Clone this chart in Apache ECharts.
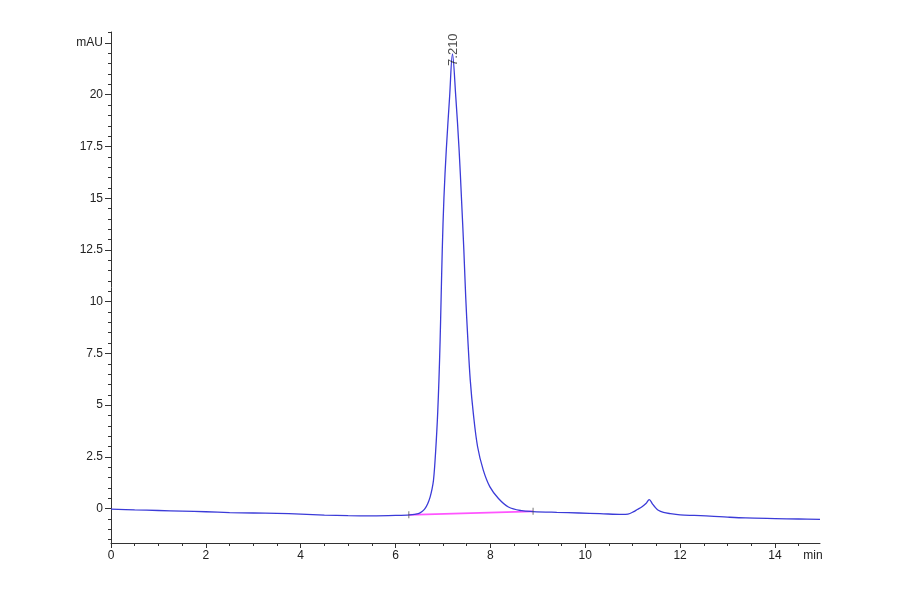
<!DOCTYPE html>
<html>
<head>
<meta charset="utf-8">
<script src="https://cdn.jsdelivr.net/npm/echarts@6/dist/echarts.min.js"></script>
<style>
html, body { margin: 0; padding: 0; background: #fff; }
#chart { width: 900px; height: 594px; }
</style>
</head>
<body>
<div id="chart"></div>
<script>
// chromatogram trace, [min, mAU]
var trace = [
    [0.0, -0.02], [0.5, -0.06], [1.0, -0.09], [1.5, -0.12], [2.0, -0.15],
    [2.5, -0.19], [3.0, -0.21], [3.5, -0.23], [4.0, -0.26], [4.5, -0.31],
    [5.0, -0.34], [5.5, -0.35], [6.0, -0.33], [6.3, -0.3], [6.48, -0.24],
    [6.56, -0.14], [6.62, 0.0], [6.68, 0.25], [6.73, 0.57], [6.77, 0.95],
    [6.8, 1.37], [6.825, 2.05], [6.845, 2.75], [6.87, 3.75], [6.89, 4.7],
    [6.915, 6.22], [6.94, 8.15], [6.96, 10.08], [6.985, 12.5], [7.02, 15.0],
    [7.07, 17.34], [7.14, 19.9], [7.2, 21.97], [7.27, 19.9], [7.34, 17.34],
    [7.39, 15.0], [7.44, 12.5], [7.48, 10.2], [7.525, 8.15], [7.575, 6.22],
    [7.64, 4.6], [7.73, 2.99], [7.85, 1.86], [7.99, 1.05], [8.17, 0.49],
    [8.38, 0.08], [8.66, -0.1], [8.9, -0.14], [9.4, -0.18], [9.87, -0.21],
    [10.31, -0.24], [10.78, -0.28], [10.9, -0.26], [11.01, -0.16], [11.1, -0.04],
    [11.19, 0.08], [11.28, 0.25], [11.35, 0.44], [11.42, 0.22], [11.48, 0.05],
    [11.54, -0.08], [11.65, -0.18], [11.79, -0.24], [12.0, -0.3], [12.3, -0.33],
    [12.63, -0.36], [13.0, -0.41], [13.38, -0.45], [14.0, -0.48], [14.5, -0.5],
    [14.95, -0.52]
];
// integration baseline of the main peak
var baseline = [[6.28, -0.3], [8.9, -0.13]];
var peakLabel = [[7.21, 21.97, "7.210"]];

var yMajor = [0, 2.5, 5, 7.5, 10, 12.5, 15, 17.5, 20, 22.5];
var xMajor = [0, 2, 4, 6, 8, 10, 12, 14];
var xLabels = [0, 2, 4, 6, 8, 10, 12, 14, 14.8];
var yRange = [-1.66, 23.03];
var xRange = [0, 14.95];

var yMinor = [];
for (var v = -1.5; v <= 23.0; v += 0.5) yMinor.push(v);
var xMinor = [];
for (var u = 0; u <= 14.5; u += 0.5) xMinor.push(u);

var axisColor = "#333";
var font = "Liberation Sans";

var myChart = echarts.init(document.getElementById("chart"));
myChart.setOption({
    backgroundColor: "#fff",
    animation: false,
    grid: { left: 111, right: 80, top: 32, bottom: 51 },
    xAxis: [{
        type: "value", min: xRange[0], max: xRange[1],
        axisLine: { onZero: false, lineStyle: { color: axisColor, width: 1 } },
        axisTick: { customValues: xMajor, length: 5, lineStyle: { color: axisColor } },
        axisLabel: {
            customValues: xLabels, margin: 7, color: "#222", fontFamily: font, fontSize: 12,
            formatter: function (val) { return val > 14.5 ? "min" : String(val); }
        },
        splitLine: { show: false }
    }, {
        type: "value", min: xRange[0], max: xRange[1], position: "bottom",
        axisLine: { show: false, onZero: false },
        axisTick: { customValues: xMinor, length: 3, lineStyle: { color: axisColor } },
        axisLabel: { show: false },
        splitLine: { show: false }
    }],
    yAxis: [{
        type: "value", min: yRange[0], max: yRange[1],
        axisLine: { show: true, onZero: false, lineStyle: { color: axisColor, width: 1 } },
        axisTick: { show: true, customValues: yMajor, length: 6, lineStyle: { color: axisColor } },
        axisLabel: {
            customValues: yMajor, margin: 8, color: "#222", fontFamily: font, fontSize: 12,
            formatter: function (val) { return val > 22 ? "mAU" : String(val); }
        },
        splitLine: { show: false }
    }, {
        type: "value", min: yRange[0], max: yRange[1], position: "left",
        axisLine: { show: false, onZero: false },
        axisTick: { show: true, customValues: yMinor, length: 3, lineStyle: { color: axisColor } },
        axisLabel: { show: false },
        splitLine: { show: false }
    }],
    series: [{
        type: "line",
        data: baseline,
        showSymbol: false,
        lineStyle: { color: "#ff55ff", width: 1.6 },
        z: 2
    }, {
        type: "line",
        data: trace,
        showSymbol: false,
        smooth: 0.35,
        lineStyle: { color: "#3b3bd8", width: 1.3 },
        z: 3
    }, {
        type: "scatter",
        data: baseline,
        symbol: "rect",
        symbolSize: [1, 7],
        itemStyle: { color: "#555" },
        z: 4
    }, {
        type: "scatter",
        data: peakLabel,
        symbolSize: 0,
        label: {
            show: true,
            position: [0, 12],
            rotate: 90,
            align: "left",
            verticalAlign: "middle",
            color: "#222",
            fontFamily: font,
            fontSize: 13,
            formatter: function (p) { return p.data[2]; }
        },
        z: 5
    }]
});
</script>
</body>
</html>
